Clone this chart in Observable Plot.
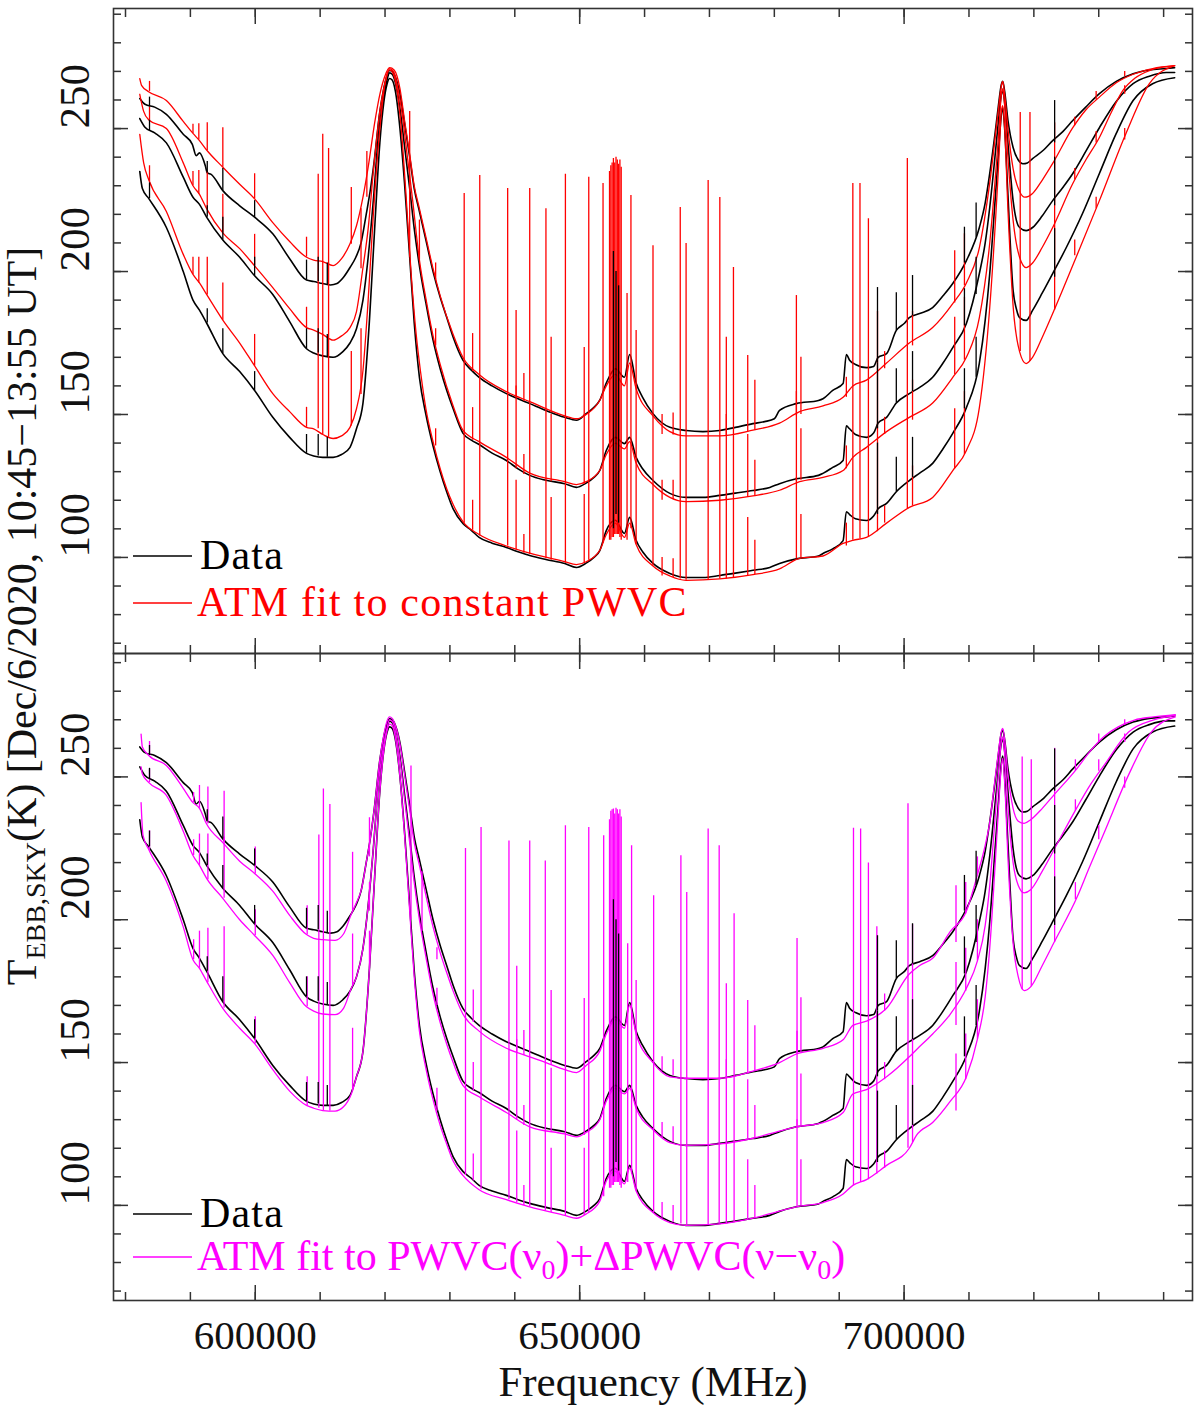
<!DOCTYPE html>
<html>
<head>
<meta charset="utf-8">
<script src="https://cdn.jsdelivr.net/npm/d3@7"></script>
<script src="https://cdn.jsdelivr.net/npm/@observablehq/plot@0.6"></script>
<style>
  body { margin: 0; background: #fff; }
  #wrap { position: relative; width: 1200px; height: 1405px; font-family: "Liberation Serif", serif; }
  #top, #bottom { position: absolute; left: 0; }
  #top { top: 0; }
  #bottom { top: 653px; }
  #top svg, #bottom svg { display: block; overflow: visible; }
  #overlay { position: absolute; left: 0; top: 0; pointer-events: none; }
</style>
</head>
<body>
<div id="wrap">
  <div id="top"></div>
  <div id="bottom"></div>
  <svg id="overlay" width="1200" height="1405"></svg>
</div>
<script>
// frequencies read in GHz (axis is MHz), temperatures in K
const data1 = [[582.2,260.5],[583.0,258.5],[584.5,257.5],[586.3,255],[588.9,248],[590.3,244.5],[590.9,240.5],[591.4,241.5],[592.3,237],[592.6,234.5],[593.2,234],[595.0,228.3],[597.6,223],[599.9,219],[602.7,213.2],[605.3,204.5],[607.9,197],[609.0,196.5],[610.4,195.8],[611.6,195.3],[612.6,195.8],[613.6,198],[614.6,201.4],[615.5,205],[616.3,210],[617.1,220],[617.7,228],[618.3,238],[619.2,256],[619.8,264],[620.3,268.5],[620.7,270.3],[621.1,270],[621.6,268],[622.3,262],[623.0,252],[623.8,240],[624.5,229],[625.3,221],[626.3,211],[627.4,200],[628.5,191],[629.5,184],[630.5,177],[632.0,169],[633.3,165.5],[634.5,163],[636.5,160],[638.7,157.3],[640.5,155.5],[642.3,153.8],[644.8,151.4],[647.7,149],[649.5,148],[651.0,150.3],[652.2,152.5],[653.1,155],[654.1,161],[655.5,166],[656.9,163],[657.7,171],[658.7,161],[659.7,156],[661.3,150.3],[663.9,145.5],[666.4,144.4],[669.0,144],[671.6,144.4],[674.0,145.5],[676.7,146.8],[678.5,147.5],[680.0,148.5],[680.8,151.4],[683.4,153.8],[686.8,154.9],[687.5,155.5],[689.0,158.4],[690.6,160.8],[691.1,171],[691.6,169],[692.5,167.5],[694.2,166.4],[695.3,166.8],[696.0,170],[697.3,171.3],[698.8,179.4],[700.1,182],[700.8,183.9],[702.4,185.3],[704.4,187.4],[706.0,191.5],[707.5,195.8],[709.6,203.8],[711.6,215.4],[712.5,224],[713.2,234.3],[714.0,248],[714.5,257.3],[715.0,265.5],[715.2,266.5],[715.5,263],[716.0,253],[716.8,243.4],[717.6,239],[718.3,237.7],[719.0,238],[719.8,239.5],[721.5,242.5],[722.9,245.8],[724.5,249],[726.0,252.8],[728.0,257.5],[730.1,262.2],[732.7,266.5],[735.3,269.2],[737.8,270.5],[740.4,271],[741.7,271.3]];

const data2 = [[582.2,253.5],[583.0,250.5],[584.5,248.5],[586.3,245],[588.9,233],[590.4,226],[591.4,223.5],[592.5,219],[595.0,211],[597.6,205],[599.9,198.5],[602.7,192],[605.3,182.5],[607.9,173],[609.0,171.5],[610.4,170.5],[612.0,170],[613.5,172],[614.6,175],[615.6,180],[616.6,190],[617.4,205],[618.2,225],[619.0,248],[619.7,260],[620.3,267],[620.7,269.5],[621.1,269],[621.6,266],[622.3,257],[623.0,244],[623.8,229],[624.5,215],[625.3,202],[626.3,189],[627.4,176],[628.5,166],[629.5,158.5],[630.5,152],[632.0,143.5],[633.3,141],[634.5,139.5],[636.5,136.5],[638.7,133.9],[640.5,131],[642.3,128.7],[644.8,127],[647.7,125.8],[649.5,124.5],[651.0,126],[652.2,128],[653.1,130.4],[654.1,137.4],[655.5,142],[656.9,139.8],[657.7,142],[658.7,135],[659.7,131],[661.3,126.9],[663.9,122.4],[666.4,121],[669.0,121],[671.6,121.7],[674.0,122.5],[676.7,123.4],[679.3,124.5],[680.8,125.8],[683.4,127.5],[686.8,128.7],[687.5,129.4],[689.0,131.5],[690.6,133.9],[691.1,146],[691.6,145],[692.5,143],[694.2,142],[695.3,143.5],[696.0,147],[697.3,149],[698.8,154],[700.8,157.3],[702.4,159.5],[704.4,163],[706.0,168],[707.5,173.4],[709.6,181.8],[711.6,199.3],[712.5,210],[713.2,222.4],[714.0,240],[714.5,251.7],[715.0,262],[715.2,263.3],[715.5,259],[716.0,245],[716.8,224.8],[717.3,218],[717.8,215.4],[718.8,214.3],[719.8,215.4],[721.3,219.5],[722.9,224.8],[724.5,229.5],[726.0,234.3],[728.0,242],[730.1,250.3],[732.7,259.5],[735.3,265.7],[737.8,268.3],[740.4,269.6],[741.7,269.6]];

const data3 = [[582.2,235],[582.6,229],[583.6,225.5],[586.3,215.4],[588.9,200],[590.4,190],[591.4,186.5],[592.5,182],[595.0,171.3],[597.6,165],[599.9,158.4],[602.7,149],[605.3,142],[607.9,136.4],[609.0,135.5],[610.4,135],[612.0,135],[613.3,136],[614.6,138.5],[615.6,145],[616.6,154],[617.6,183],[618.4,215],[619.2,245],[619.8,259],[620.3,265.5],[620.7,267.5],[621.1,267],[621.6,263],[622.3,250],[623.0,231],[623.8,205],[624.5,182],[625.3,163],[626.3,150],[627.4,139],[628.5,130],[629.5,123],[630.5,117],[632.0,111.9],[633.3,109.5],[634.5,107],[636.5,105],[638.7,103.5],[640.5,102],[642.3,100.7],[644.8,99.3],[647.7,97.9],[649.5,96.5],[651.0,98],[652.2,100],[653.1,102.4],[654.1,109.4],[655.5,113],[656.9,108.4],[657.7,114],[658.7,106],[659.7,102],[661.3,97.9],[663.9,94.4],[666.4,93],[669.0,93],[671.6,93.7],[674.0,94.5],[676.7,95.5],[679.3,96.5],[680.8,97.9],[683.4,99.5],[686.8,100.5],[687.5,101.4],[689.0,103],[690.6,105.9],[691.1,116],[691.6,115],[692.5,113.5],[694.2,112.9],[695.3,114.5],[696.0,117],[697.3,118.9],[698.8,123],[700.8,126.9],[702.4,129.5],[704.4,132.9],[706.0,138],[707.5,143.4],[709.6,152.4],[711.6,168],[712.5,183],[713.2,199.3],[714.0,224],[714.5,239.9],[715.0,255],[715.2,257.3],[715.5,250],[716.0,227],[716.8,193.4],[717.3,187],[717.8,183.9],[718.8,182.9],[719.8,186.4],[721.3,192.5],[722.9,199.3],[725.0,208.4],[727.5,220.3],[730.1,234.3],[732.7,248.3],[735.3,259.8],[738.3,265.7],[741.7,267.8]];

// ATM fit to constant PWVC (top panel)
const red1 = [[582.2,267.5],[582.5,265],[583.5,263],[586.3,259.8],[588.9,252.5],[590.4,248.3],[591.4,245.8],[592.5,242.5],[595.0,236.5],[597.6,230.5],[599.9,225.4],[602.7,217.1],[605.3,210.5],[607.9,205],[609.0,204],[610.4,203.5],[612.0,202.1],[613.3,204.5],[614.6,209.7],[615.6,216],[616.6,226],[617.4,236.5],[618.4,252],[619.2,262],[620.0,268.5],[620.7,271.3],[621.4,270.5],[622.3,264],[623.0,253],[623.8,241],[624.5,230],[625.3,222],[626.3,212],[627.4,201],[628.5,191.5],[630.5,178],[632.0,170],[634.5,164],[638.7,158],[642.3,154.5],[647.7,149.5],[649.5,148.5],[651.0,150],[653.1,155],[654.1,160],[655.5,164],[656.9,160],[657.7,168],[658.7,159],[661.3,149.5],[663.9,144],[666.4,142.5],[671.6,142.5],[676.7,144.5],[680.8,147],[683.9,151],[687.5,153],[690.6,156],[692.1,160],[694.2,162],[697.3,168],[700.8,175],[704.4,180.4],[707.5,188.8],[709.6,196],[711.6,208.4],[713.2,231],[714.5,256],[715.0,265],[715.2,266.5],[715.5,262],[716.0,250],[716.8,236],[717.8,228],[718.6,226],[719.8,227.3],[721.3,232],[722.9,237.8],[726.0,250.3],[728.0,256.5],[730.1,261],[732.7,266],[735.3,269],[738.3,271],[741.7,272]];

const red2 = [[582.2,262],[582.8,256],[583.6,253],[586.3,250],[588.9,238],[590.4,230],[591.4,227],[592.5,222],[595.0,213.5],[597.6,208],[599.9,202],[602.7,194.4],[605.3,187],[607.9,180.4],[609.0,179.5],[610.4,178],[612.0,176],[613.3,177.5],[614.6,180.4],[615.6,186],[616.6,201.4],[617.4,215],[618.2,235],[619.2,256],[620.0,266],[620.7,271],[621.3,270],[622.0,264],[622.7,254],[623.4,241],[624.2,226],[625.3,204],[626.3,190.5],[627.4,177.5],[628.5,167.5],[630.5,153],[632.0,144.5],[634.5,140.5],[638.7,135],[642.3,129.5],[647.7,126.5],[649.5,125.5],[651.0,126.5],[653.1,130.5],[654.1,136],[655.5,140],[656.9,138],[657.7,140.5],[658.7,133],[661.3,125.5],[663.9,121],[666.4,119.5],[671.6,120],[676.7,121.5],[680.8,123.5],[683.9,126.5],[687.5,128],[690.6,130.4],[692.1,135],[694.2,138.5],[697.3,144],[700.8,149],[704.4,154],[707.5,163],[709.6,170],[711.6,183.9],[713.2,210],[714.5,246],[715.0,262],[715.2,264],[715.5,258],[716.0,240],[716.8,218],[717.8,205],[718.8,201.4],[719.8,203],[721.3,208.5],[722.9,215.4],[726.0,230.8],[728.0,239],[730.1,246.9],[732.0,256],[733.7,263.3],[735.5,267.5],[737.8,270.3],[741.7,272]];

const red3 = [[582.2,248],[582.8,238],[583.6,232],[586.3,221],[588.9,206],[590.4,199],[591.4,196],[592.5,192],[595.0,183],[597.6,175],[599.9,167],[602.7,157.3],[605.3,151],[607.9,145.5],[609.0,145],[610.4,143],[612.0,141.6],[613.3,142.5],[614.6,145.5],[615.6,152],[616.6,165.4],[617.4,190],[618.2,220],[619.2,250],[620.2,268],[620.7,270.5],[621.2,269.5],[621.8,264],[622.5,250],[623.2,228],[624.0,200],[624.8,178],[625.5,164.5],[626.3,152],[627.4,140.5],[628.5,131],[629.5,124],[630.5,118.5],[632.0,112.5],[634.5,108],[638.7,104],[642.3,101.5],[647.7,98.5],[649.5,97.5],[651.0,98.5],[653.1,102.5],[654.1,108],[655.5,112],[656.9,107],[657.7,112],[658.7,104.5],[661.3,97],[663.9,93.5],[666.4,92],[671.6,92.5],[676.7,94],[680.8,96],[683.9,99.7],[687.5,100.5],[690.6,104.9],[692.1,106],[694.2,107],[697.3,112],[700.8,117.5],[704.4,121],[707.5,130.4],[709.6,137.4],[711.6,152.4],[713.2,187.4],[714.5,234.3],[715.0,256],[715.2,258],[715.5,250],[716.0,222],[716.8,188],[717.8,172],[718.8,167.8],[719.8,170],[721.3,177],[722.9,185.3],[726.5,204.9],[730.1,224.8],[734.2,248.3],[737.8,265.7],[741.7,272]];

// ATM fit to PWVC(nu0) + dPWVC(nu - nu0) (bottom panel)
const mag1 = [[582.4,265],[582.6,260.5],[583.6,257.5],[586.3,254],[588.9,246],[590.4,241],[591.4,239],[592.5,233.5],[595.0,227],[597.6,220.5],[599.9,216.2],[602.7,210],[605.3,201.5],[607.9,194.8],[609.0,193.5],[610.4,193],[612.3,192.8],[613.6,195],[614.8,202],[615.6,206],[616.4,211],[617.1,220],[617.7,228],[618.3,238],[619.2,256],[619.8,264.5],[620.3,269.5],[620.7,271],[621.1,270.5],[621.6,268],[622.3,261.5],[623.0,251],[623.8,238.5],[624.5,227],[625.3,219],[626.3,208.5],[627.4,197.5],[628.5,188.5],[629.5,181.5],[630.5,175],[632.0,167],[634.5,161],[638.7,155],[642.3,152],[644.8,150],[647.7,147.5],[649.5,146.5],[651.0,149],[653.1,154],[654.1,160],[655.5,165],[656.9,162],[657.7,170],[658.7,160],[661.3,150],[663.9,145],[666.4,144.5],[671.6,144.5],[676.7,147],[680.8,150],[683.4,153],[687.5,155],[690.6,158],[692.1,163],[694.2,164.5],[697.3,169],[700.8,181],[702.4,184],[704.4,186.5],[707.1,195.8],[709.6,203],[711.3,215.7],[712.5,226],[713.2,234],[714.0,249],[714.5,258],[715.0,266],[715.2,267],[715.5,263],[716.0,251],[716.8,239],[717.6,234.5],[718.5,233.7],[719.5,235],[721.3,239],[723.1,243.7],[726.7,253.1],[728.5,258.5],[730.9,264.3],[733.0,267.5],[735.5,269.9],[738.5,271],[741.8,271.8]];

const mag2 = [[582.4,253.5],[582.6,251],[583.6,248],[586.3,243.5],[588.9,231],[590.4,222.5],[591.4,219],[592.5,214.5],[595.0,207.5],[597.6,200],[599.9,194.5],[602.7,187.5],[605.3,178],[607.9,169.5],[609.0,168],[610.4,167],[612.3,166.8],[613.6,169],[614.8,176],[615.6,180],[616.6,190],[617.4,205],[618.2,225],[619.0,248],[619.7,260],[620.3,267],[620.7,270],[621.1,269.5],[621.6,266],[622.3,256],[623.0,242.5],[623.8,227],[624.5,213],[625.3,200],[626.3,187],[627.4,174],[628.5,164],[629.5,156.5],[630.5,150],[632.0,142],[634.5,138],[638.7,132.5],[642.3,127.5],[647.7,125],[649.5,124],[651.0,125.5],[653.1,130],[654.1,136.5],[655.5,141],[656.9,139],[657.7,141],[658.7,134],[661.3,126.5],[663.9,122],[666.4,121],[671.6,121.5],[676.7,123.5],[680.8,126],[683.4,127.5],[687.5,129],[690.6,132.5],[692.1,139],[694.2,140.5],[697.3,145],[700.8,152],[701.9,154.5],[704.4,160],[707.1,166.9],[709.6,176],[711.3,185.6],[712.5,198],[713.2,212],[714.0,235],[714.5,250],[715.0,262.5],[715.2,264],[715.5,258],[716.0,240],[716.8,220],[717.6,212],[718.5,209.4],[719.5,210.5],[721.3,217],[723.1,224.5],[726.7,239.5],[728.5,246.5],[730.9,254.3],[734.6,265.7],[738.5,270],[741.8,271.5]];

const mag3 = [[582.4,241],[582.7,229.5],[583.6,224.5],[586.3,213.5],[588.9,197.5],[590.4,186],[591.4,183],[592.5,178.5],[595.0,169],[597.6,162],[599.9,156.6],[602.7,147.5],[605.3,140],[607.9,135],[609.0,134],[610.4,133.2],[612.3,133],[613.6,134.5],[614.8,139],[615.6,145],[616.6,154],[617.6,183],[618.4,215],[619.2,245],[619.8,259],[620.3,266],[620.7,268.5],[621.1,268],[621.6,263.5],[622.3,250],[623.0,230],[623.8,203],[624.5,180],[625.3,161],[626.3,148],[627.4,137],[628.5,128],[629.5,121.5],[630.5,115.5],[632.0,110.5],[634.5,105.5],[638.7,102],[642.3,99.5],[647.7,96.5],[649.5,95.5],[651.0,97],[653.1,101.5],[654.1,108.5],[655.5,112],[656.9,107.5],[657.7,113],[658.7,105],[661.3,97.5],[663.9,94],[666.4,93],[671.6,93.5],[676.7,95.5],[680.8,98],[683.4,99.5],[687.5,101],[690.6,104],[692.1,107],[694.2,109],[697.3,114],[700.8,120],[701.9,124.5],[704.4,129],[707.1,136.4],[709.6,145],[711.3,158.2],[712.5,173],[713.2,190],[714.0,218],[714.5,237],[715.0,254],[715.2,256.5],[715.5,248],[716.0,222],[716.8,192],[717.6,180],[718.5,175.2],[719.5,176.5],[721.3,184],[723.1,192],[726.7,208.1],[728.5,218],[730.9,230.8],[734.6,250.7],[738.1,265.7],[741.8,271]];

// narrow lines: [GHz, from K, to K]
const dataLines = [[583.7,257.5,261],[583.7,249,253],[583.7,225.5,231],[592.6,234.5,238.5],[592.6,219,223],[592.6,182,187],[595.0,228.3,236],[595.0,211,219],[595.0,171.3,180],[599.9,219,224.8],[599.9,198.5,205],[599.9,158.4,165],[607.9,197,204],[607.9,173,180],[607.9,136.4,143],[609.7,196.5,205],[609.7,171.5,180],[609.7,135.5,143],[611.1,195.5,203],[611.1,170.2,178],[611.1,135,142],[655.2,110,207],[655.6,115,200],[656.0,112,195],[695.9,168,194.4],[695.9,145,168],[695.9,115,140],[698.8,179.4,192.6],[698.8,154,166],[698.8,123,135],[701.3,184.5,198.6],[701.3,158,172],[701.3,128,142],[709.3,203,215.5],[709.3,181,194],[709.3,152,166],[711.1,212,224],[711.1,192,205],[711.1,163,177],[723.2,245,259.8],[723.2,223,240],[723.2,198,215]];

const redLines = [[583.7,263,266.5],[583.7,253,257.5],[583.7,231.5,237],[590.4,248.3,251.5],[590.4,230,235],[590.4,199,205],[591.3,246,251.7],[591.3,227,235.3],[591.3,196,205],[592.6,242.3,252],[592.6,221.8,235],[592.6,191.8,205],[595.0,236.5,250.3],[595.0,213.5,227],[595.0,183,196],[599.9,225.4,234.2],[599.9,202,213],[599.9,167,178],[607.9,205,212],[607.9,180.4,187.5],[607.9,145.5,152.5],[609.7,145,234],[610.4,143,248],[611.3,142,243],[614.8,209.5,229.4],[614.8,146,172],[616.3,201,222],[616.3,157,180],[617.2,226,242],[623.8,205,256],[625.3,204,218],[627.8,197,203],[627.8,174,180],[627.8,139,145],[632.2,112,227.3],[633.5,165,178.3],[633.5,141,152.4],[633.5,109.5,120],[634.6,107.5,233.6],[638.9,104,229],[640.2,156,186.4],[640.2,131,160],[640.2,102.5,127],[641.4,154.5,164.3],[641.4,129,136],[641.4,101.5,108],[642.3,101,229],[644.8,99.5,222],[645.6,150.5,177],[645.6,126.5,150],[645.6,99,121],[647.8,98,234],[650.7,149.5,173.4],[650.7,125.5,150],[650.7,98,122],[651.4,99,233],[653.6,105,230.8],[654.6,106,235],[654.8,106,237],[655.0,107,238],[655.2,107,239.5],[655.4,108,238],[655.6,108,240],[655.8,108,239],[656.0,108,237.5],[656.2,107,239],[656.4,106,236.5],[657.3,106,192.3],[657.9,110,226.6],[658.7,104.5,179.4],[661.3,97,209],[662.7,143,150],[662.7,120,127],[662.7,93.5,100],[664.4,142.8,150.5],[664.4,120.3,127],[664.4,93,99.5],[665.5,92.5,222.4],[666.4,92,209.8],[669.8,92,231.8],[671.6,92.5,225.9],[672.6,142.5,177],[672.6,120,150],[672.6,92.5,121],[673.7,93,201.4],[675.9,144,170.6],[675.9,121,143],[675.9,93.5,114],[677.0,144.5,162],[677.0,121.5,134],[677.0,94,106],[683.4,149.5,191.6],[683.4,126.5,158],[683.4,99.5,128],[684.1,150,170],[684.1,127,145],[684.1,100,115],[691.1,156,163],[691.1,131,139],[691.1,104,112],[692.1,106,230.8],[693.2,106.5,230.8],[694.5,107,218.5],[695.9,109,186],[697.0,166,172],[697.0,143,149],[697.0,112,118],[700.5,117,239.5],[701.3,174,186],[701.3,148,162],[701.3,118,132],[707.8,189,207.3],[707.8,164,184],[707.8,131,152],[709.3,195,213.2],[709.3,169,191],[709.3,136,158],[717.9,172,255.6],[719.4,168.5,255.6],[723.2,186.5,252],[726.3,251,254],[726.3,232,236],[726.3,205.5,211],[729.6,260,263],[729.6,245,249],[729.6,222,226],[734.0,268,270],[734.0,262,265],[734.0,246,250]];

const magentaLines = [[583.7,257.5,262.4],[583.7,248,252.8],[583.7,224.5,231.2],[590.5,241,244.5],[590.5,222.5,228],[590.5,186,193],[591.4,239,247],[591.4,219,230],[591.4,183,196],[592.7,233.5,246.5],[592.7,214,230],[592.7,178,197],[595.2,227,245],[595.2,207.5,229],[595.2,169,197.5],[600.0,216,225.5],[600.0,194.5,203.5],[600.0,156.5,166],[608.0,194.7,204.9],[608.0,169.5,180],[608.0,135,145],[609.8,134,229.7],[610.5,133.2,245.8],[611.5,133,240.3],[615.0,203,223.6],[615.0,177,195],[615.0,140,162],[617.6,222,235.7],[617.6,203,213],[617.6,183,196],[624.0,200,253.8],[625.7,196,216.8],[628.0,186,190.2],[628.0,170,176],[628.0,133,141],[632.4,110.5,224.9],[633.6,164,175.4],[633.6,140,150],[633.6,108.5,118],[634.8,105.5,232.3],[639.1,102,227.6],[640.3,153.5,183.7],[640.3,130,158],[640.3,101,126],[641.4,152.5,161.2],[641.4,128,135],[641.4,100,107],[642.3,99.5,227.6],[644.7,98,220.6],[645.6,149,175.2],[645.6,125.5,148],[645.6,97.5,120],[647.8,96.5,232.9],[650.7,148,172.4],[650.7,124.5,148],[650.7,96.5,120],[651.4,97.5,232.3],[653.7,103,229.4],[654.6,106,235],[654.8,106,238],[655.0,107,238.5],[655.2,107,238.8],[655.4,108,237],[655.6,108,239],[655.8,108,238.5],[656.0,108,237],[656.2,107,238.5],[656.4,106,236],[657.4,108,191.6],[658.0,111,225.9],[658.7,105,178.7],[661.4,97.5,208.4],[662.7,147,152],[662.7,123.5,129],[662.7,95.5,101],[664.4,145.5,151],[664.4,122,127.5],[664.4,94,100],[665.6,93.5,222.4],[666.5,93,209.5],[669.8,93,231.8],[671.5,93.5,225.9],[672.6,144.5,177.6],[672.6,121.5,151],[672.6,93.5,122],[673.8,94,202.1],[675.9,146,171.7],[675.9,123,144],[675.9,95,116],[677.0,147,162.9],[677.0,123.5,135],[677.0,95.5,107],[683.5,153,193.4],[683.5,127.5,161],[683.5,99.5,130],[684.1,153.5,172.7],[684.1,128,146],[684.1,100,116],[692.2,107,232],[693.3,108,231.8],[694.5,109,219.9],[695.8,111,197.5],[697.0,168,174],[697.0,144,150],[697.0,113,119],[700.6,120,240.6],[701.3,122,198.3],[708.0,192,211.9],[708.0,163,185],[708.0,133,153],[709.5,202,213],[709.5,175,190],[709.5,144,160],[711.3,215.7,222],[711.3,185.6,200],[711.3,158.2,172],[718.2,175.5,257],[719.6,176.5,256],[723.2,192,260],[726.4,252,256],[726.4,238,242],[726.4,207,213],[730.0,262,265],[730.0,252,256],[730.0,228,233],[734.0,268,270],[734.0,262,265],[734.0,246,250]];

// axes
const xMinor = [580000,590000,600000,610000,620000,630000,640000,650000,660000,670000,680000,690000,700000,710000,720000,730000,740000];
const xMajor = [600000,650000,700000];
const yMinor = [70,80,90,100,110,120,130,140,150,160,170,180,190,200,210,220,230,240,250,260,270,280,290];
const yMajor = [100,150,200,250];
const xLabel = "Frequency (MHz)";

const fx = d => d[0] * 1000;

function panel({height, marginTop, marginBottom, yDomain, models, color, lines, showX}) {
  const marks = [];
  for (const c of [data1, data2, data3]) {
    marks.push(Plot.line(c, {x: fx, y: d => d[1], stroke: "#000", strokeWidth: 1.6, curve: "monotone-x"}));
  }
  for (const c of models) {
    marks.push(Plot.line(c, {x: fx, y: d => d[1], stroke: color, strokeWidth: 1.3, curve: "monotone-x"}));
  }
  marks.push(Plot.ruleX(lines, {x: fx, y1: d => d[1], y2: d => d[2], stroke: color, strokeWidth: 1.3}));
  marks.push(Plot.ruleX(dataLines, {x: fx, y1: d => d[1], y2: d => d[2], stroke: "#000", strokeWidth: 1.3}));

  const tk = {stroke: "#333", strokeWidth: 1.5, fill: "none", label: null};
  marks.push(
    Plot.axisX(xMinor, {...tk, anchor: "bottom", tickSize: -8}),
    Plot.axisX(xMajor, {...tk, anchor: "bottom", tickSize: -15}),
    Plot.axisX(xMinor, {...tk, anchor: "top", tickSize: -8}),
    Plot.axisX(xMajor, {...tk, anchor: "top", tickSize: -15}),
    Plot.axisY(yMinor, {...tk, anchor: "left", tickSize: -8}),
    Plot.axisY(yMajor, {...tk, anchor: "left", tickSize: -15}),
    Plot.axisY(yMinor, {...tk, anchor: "right", tickSize: -8}),
    Plot.axisY(yMajor, {...tk, anchor: "right", tickSize: -15}),
    Plot.frame({stroke: "#333", strokeWidth: 1.6}),
    Plot.text(yMajor, {y: d => d, text: d => String(d), frameAnchor: "left", dx: -38, rotate: -90, fontSize: 43, fill: "#111"})
  );
  if (showX) {
    marks.push(
      Plot.text(xMajor, {x: d => d, text: d => String(d), frameAnchor: "bottom", dy: 48, fontSize: 41, fill: "#111"}),
      Plot.text([xLabel], {text: d => d, frameAnchor: "bottom", dy: 95, fontSize: 43, fill: "#111"})
    );
  }
  return Plot.plot({
    width: 1200,
    height,
    marginLeft: 113,
    marginRight: 8,
    marginTop,
    marginBottom,
    x: {domain: [578150, 744450]},
    y: {domain: yDomain},
    style: {fontFamily: "'Liberation Serif', serif", background: "transparent", color: "#111"},
    marks
  });
}

document.getElementById("top").append(panel({
  height: 653, marginTop: 8, marginBottom: 0, yDomain: [66.4, 292],
  models: [red1, red2, red3], color: "#ff0000", lines: redLines, showX: false
}));
document.getElementById("bottom").append(panel({
  height: 752, marginTop: 0, marginBottom: 105, yDomain: [66.7, 293.2],
  models: [mag1, mag2, mag3], color: "#ff00ff", lines: magentaLines, showX: true
}));

// legends and the shared y label
const ov = d3.select("#overlay").style("font-family", "'Liberation Serif', serif");

function legendLine(y, color) {
  ov.append("line").attr("x1", 133).attr("x2", 192).attr("y1", y).attr("y2", y)
    .attr("stroke", color).attr("stroke-width", 1.3);
}
legendLine(556, "#000");
ov.append("text").attr("x", 200).attr("y", 569).attr("font-size", 42).attr("letter-spacing", 1.2).attr("fill", "#000").text("Data");
legendLine(603, "#ff0000");
ov.append("text").attr("x", 197).attr("y", 616).attr("font-size", 42).attr("letter-spacing", 1.2).attr("fill", "#ff0000").text("ATM fit to constant PWVC");

legendLine(1214, "#000");
ov.append("text").attr("x", 200).attr("y", 1227).attr("font-size", 42).attr("letter-spacing", 1.2).attr("fill", "#000").text("Data");
legendLine(1257, "#ff00ff");
const lt = ov.append("text").attr("x", 197).attr("y", 1270).attr("font-size", 42).attr("fill", "#ff00ff");
lt.append("tspan").text("ATM fit to PWVC(ν");
lt.append("tspan").attr("font-size", 28).attr("dy", 9).text("0");
lt.append("tspan").attr("dy", -9).text(")+ΔPWVC(ν−ν");
lt.append("tspan").attr("font-size", 28).attr("dy", 9).text("0");
lt.append("tspan").attr("dy", -9).text(")");

const yl = ov.append("text").attr("transform", "translate(36,616) rotate(-90)")
  .attr("text-anchor", "middle").attr("font-size", 42).attr("fill", "#111");
yl.append("tspan").text("T");
yl.append("tspan").attr("font-size", 28).attr("dy", 9).text("EBB,SKY");
yl.append("tspan").attr("dy", -9).text("(K) [Dec/6/2020, 10:45−13:55 UT]");
</script>
</body>
</html>
